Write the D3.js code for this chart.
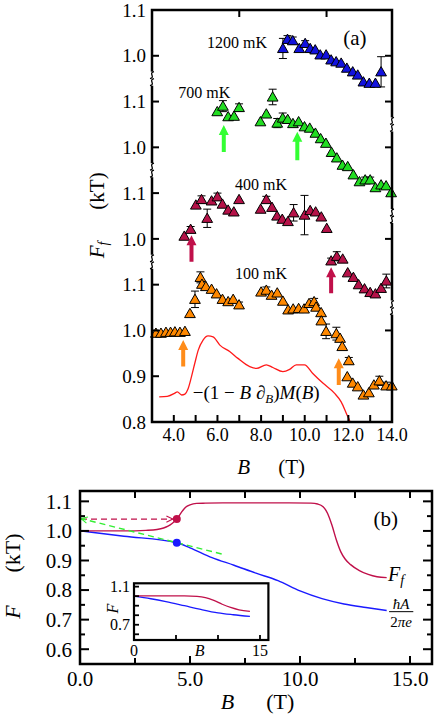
<!DOCTYPE html>
<html lang="en">
<head>
<meta charset="UTF-8">
<title>Ff versus B</title>
<script src="https://d3js.org/d3.v7.min.js"></script>
<style>
  body { margin: 0; background: #fff; }
  svg { display: block; font-family: "Liberation Serif", "DejaVu Serif", serif; }
</style>
</head>
<body>
<svg width="436" height="715"></svg>
<script>
// ---------- panel (a): measured Ff, stacked with offsets ----------
const b1200 = [9.00, 9.21, 9.45, 9.75, 10.02, 10.25, 10.48, 10.71, 10.98, 11.21, 11.44, 11.67, 11.93, 12.20, 12.43, 12.69, 12.96, 13.24, 13.50];
const f1200 = [1.016, 1.036, 1.033, 1.016, 1.027, 1.016, 1.013, 1.002, 1.002, 0.991, 0.987, 0.984, 0.973, 0.965, 0.958, 0.943, 0.940, 0.940, 0.965];
const e1200 = [0.022, 0.008, 0.008, 0, 0.006, 0, 0, 0, 0, 0, 0, 0, 0, 0, 0, 0, 0, 0, 0.033];

const b700 = [5.99, 6.25, 6.49, 6.76, 6.99, 7.97, 8.24, 8.53, 8.74, 8.99, 9.22, 9.46, 9.72, 9.99, 10.23, 10.49, 10.73, 10.97, 11.23, 11.47, 11.73, 11.97, 12.23, 12.51, 12.77, 13.00, 13.24, 13.50, 13.73, 13.96];
const f700 = [1.078, 1.090, 1.067, 1.068, 1.087, 1.056, 1.073, 1.110, 1.053, 1.064, 1.061, 1.052, 1.056, 1.045, 1.042, 1.031, 1.019, 1.009, 0.989, 0.977, 0.961, 0.958, 0.940, 0.925, 0.929, 0.929, 0.912, 0.918, 0.916, 0.901];
const e700 = [0, 0.012, 0, 0, 0.008, 0, 0, 0.017, 0.01, 0.011, 0, 0, 0, 0, 0, 0, 0, 0, 0, 0, 0, 0, 0, 0, 0.006, 0.006, 0, 0, 0, 0];

const b400 = [4.48, 4.77, 5.01, 5.27, 5.53, 5.73, 6.00, 6.23, 6.49, 6.75, 6.99, 7.98, 8.24, 8.50, 8.73, 8.97, 9.23, 9.49, 9.99, 10.25, 10.50, 10.76, 11.01, 11.21, 11.47, 11.74, 11.97, 12.23, 12.47, 12.74, 13.00, 13.24, 13.50, 13.74];
const f400 = [1.006, 1.021, 1.074, 1.086, 1.045, 1.083, 1.092, 1.076, 1.063, 1.059, 1.086, 1.065, 1.086, 1.069, 1.050, 1.043, 1.038, 1.057, 1.052, 1.062, 1.059, 1.048, 1.023, 0.952, 0.962, 0.956, 0.926, 0.916, 0.900, 0.891, 0.883, 0.880, 0.892, 0.908];
const e400 = [0, 0.006, 0, 0.008, 0.02, 0, 0.008, 0, 0, 0, 0, 0, 0.007, 0, 0, 0, 0, 0.018, 0.043, 0, 0, 0, 0, 0.006, 0.01, 0, 0, 0, 0, 0, 0, 0, 0, 0.015];

const b100 = [3.18, 3.41, 3.64, 3.85, 4.05, 4.28, 4.51, 4.74, 4.97, 5.22, 5.29, 5.47, 5.73, 5.96, 6.23, 6.49, 6.72, 6.99, 8.00, 8.24, 8.48, 8.74, 9.00, 9.24, 9.47, 9.72, 9.97, 10.20, 10.43, 10.52, 10.75, 10.76, 10.98, 11.45, 11.62, 11.72, 12.02, 11.95, 12.20, 12.43, 12.69, 12.94, 13.17, 13.42, 13.73, 13.99];
const f100 = [0.994, 0.994, 0.996, 0.996, 0.997, 0.996, 0.998, 1.037, 1.068, 1.116, 1.101, 1.096, 1.090, 1.080, 1.068, 1.063, 1.068, 1.056, 1.084, 1.088, 1.077, 1.082, 1.064, 1.045, 1.047, 1.048, 1.047, 1.059, 1.063, 1.051, 1.039, 1.021, 0.998, 0.993, 0.983, 0.965, 0.934, 0.899, 0.885, 0.877, 0.859, 0.864, 0.881, 0.890, 0.879, 0.879];
const e100 = [0, 0, 0, 0, 0, 0, 0, 0, 0.018, 0.012, 0, 0, 0, 0, 0, 0, 0, 0.006, 0, 0.007, 0, 0, 0, 0, 0, 0, 0, 0, 0.007, 0, 0, 0, 0.016, 0.014, 0, 0, 0.007, 0, 0, 0, 0, 0, 0, 0.01, 0.008, 0];

// vertical offsets used to stack the temperatures
const tempLabels = ["100 mK", "400 mK", "700 mK", "1200 mK"];
const tempOffsets = [0, 0.2, 0.4, 0.6];

// -(1 - B dB) M(B), drawn on the 100 mK scale
const mB = [3.33, 3.7, 4.05, 4.16, 4.36, 4.51, 4.65, 4.81, 4.97, 5.12, 5.34, 5.57, 5.80, 6.11, 6.56, 6.94, 7.48, 7.79, 8.24, 8.54, 9.00, 9.31, 9.61, 9.99, 10.37, 10.83, 11.36, 11.67, 11.97, 12.05, 12.2];
const mV = [0.855, 0.856, 0.863, 0.866, 0.859, 0.861, 0.872, 0.899, 0.930, 0.957, 0.979, 0.988, 0.986, 0.968, 0.954, 0.939, 0.921, 0.917, 0.925, 0.919, 0.910, 0.915, 0.925, 0.925, 0.906, 0.885, 0.863, 0.844, 0.812, 0.804, 0.77];

// arrows: B position and start/end on the stacked scale
const arrowB     = [6.29, 9.66, 4.81, 11.21, 4.43, 11.56];
const arrowFrom  = [1.390, 1.372, 1.150, 1.081, 0.921, 0.881];
const arrowTo    = [1.449, 1.434, 1.208, 1.138, 0.979, 0.939];
const arrowSeries = [2, 2, 1, 1, 0, 0];

// axis ticks of panel (a)
const aYTicks = [0.8, 0.9, 1.0, 1.1, 1.2, 1.3, 1.4, 1.5, 1.6, 1.7];
const aYLabels = ["0.8", "0.9", "1.0", "1.1", "1.0", "1.1", "1.0", "1.1", "1.0", "1.1"];
const aYTicksRight = [1.0, 1.2, 1.4, 1.5, 1.6];
const aBreaksLeft = [1.15, 1.35, 1.55];
const aBreaksRight = [1.05, 1.25, 1.45];
const aXTicks = [4, 5, 6, 7, 8, 9, 10, 11, 12, 13];
const aXLabels = [4, 6, 8, 10, 12, 14];
const aXTicksTop = [7, 11];

// ---------- panel (b): model curves ----------
const ffB = [0, 1, 2, 3, 3.5, 3.8, 4.0, 4.2, 4.4, 4.6, 4.8, 5.0, 5.3, 5.7, 6.5, 8, 9.5, 10.5, 10.8, 11.05, 11.25, 11.45, 11.65, 11.85, 12.05, 12.3, 12.7, 13.1, 13.5, 13.94];
const ffF = [1.0, 1.0, 1.0, 1.002, 1.005, 1.01, 1.016, 1.026, 1.04, 1.062, 1.08, 1.088, 1.093, 1.094, 1.095, 1.095, 1.095, 1.094, 1.091, 1.082, 1.06, 1.02, 0.97, 0.93, 0.905, 0.886, 0.866, 0.853, 0.845, 0.842];
const haB = [0, 2, 4.4, 5, 6, 7, 8, 9, 10, 11, 12, 13, 13.94];
const haF = [1.0, 0.982, 0.96, 0.943, 0.91, 0.884, 0.857, 0.832, 0.797, 0.771, 0.753, 0.741, 0.731];
const markB = 4.4, markFf = 1.04, markHa = 0.96;
const tangentEnd = [6.44, 0.922];
const bXTicks = [2.5, 5, 7.5, 10, 12.5, 15];
const bXLabels = [0, 5, 10, 15];
const bYTicks = d3.range(0.6, 1.13, 0.05);
const bYLabels = [0.6, 0.7, 0.8, 0.9, 1.0, 1.1];

// inset of panel (b)
const inFfB = [0, 3, 6, 7.5, 8.5, 9.5, 10.5, 11.5, 12.5, 13.8];
const inFfF = [1.003, 1.003, 1.003, 0.998, 0.985, 0.955, 0.915, 0.882, 0.857, 0.840];
const inHaB = [0, 2, 3.8, 6, 7.8, 10, 11.8, 13.8];
const inHaF = [1.0, 0.973, 0.943, 0.9, 0.864, 0.825, 0.805, 0.787];
const inYTicks = [0.6, 0.7, 0.8, 0.9, 1.0, 1.1];

// ---------- styles ----------
const colSeries = ["#ff8800", "#b51248", "#22dd22", "#1212dd"];
const colArrow = ["#ff8c1a", "#c0104a", "#33ff33"];
const crimson = "#c0104a";
const blue = "#1a1aff";

const svg = d3.select("svg");
const fmt1 = d3.format(".1f");

// ===================== panel (a) =====================
const xA = d3.scaleLinear().domain([3, 14]).range([152, 392]);
const yA = d3.scaleLinear().domain([0.8, 1.7]).range([422, 10]);

svg.append("clipPath").attr("id", "clipA")
  .append("rect").attr("x", xA(3)).attr("y", yA(1.7))
  .attr("width", xA(14) - xA(3)).attr("height", yA(0.8) - yA(1.7));

svg.append("path")
  .datum(mB.map((b, i) => [b, mV[i]]))
  .attr("clip-path", "url(#clipA)")
  .attr("d", d3.line().x(d => xA(d[0])).y(d => yA(d[1])).curve(d3.curveMonotoneX))
  .attr("fill", "none").attr("stroke", "#ff1a1a").attr("stroke-width", 1.3);

const allSeries = [
  { b: b100, f: f100, e: e100 },
  { b: b400, f: f400, e: e400 },
  { b: b700, f: f700, e: e700 },
  { b: b1200, f: f1200, e: e1200 }
];
const tri = d3.symbol(d3.symbolTriangle, 50);

allSeries.forEach((s, k) => {
  const pts = s.b.map((b, i) => ({ b: b, v: s.f[i] + tempOffsets[k], e: s.e[i] }));
  const g = svg.append("g");
  const eb = g.selectAll("g.eb").data(pts.filter(d => d.e > 0)).join("g")
    .attr("stroke", "#000").attr("stroke-width", 1);
  eb.append("line").attr("x1", d => xA(d.b)).attr("x2", d => xA(d.b))
    .attr("y1", d => yA(d.v - d.e)).attr("y2", d => yA(d.v + d.e));
  eb.append("line").attr("x1", d => xA(d.b) - 4).attr("x2", d => xA(d.b) + 4)
    .attr("y1", d => yA(d.v + d.e)).attr("y2", d => yA(d.v + d.e));
  eb.append("line").attr("x1", d => xA(d.b) - 4).attr("x2", d => xA(d.b) + 4)
    .attr("y1", d => yA(d.v - d.e)).attr("y2", d => yA(d.v - d.e));
  g.selectAll("path.tri").data(pts).join("path")
    .attr("class", "tri")
    .attr("d", tri)
    .attr("transform", d => `translate(${xA(d.b)},${yA(d.v) + 1})`)
    .attr("fill", colSeries[k]).attr("stroke", "#000").attr("stroke-width", 1);
});

// arrows
arrowB.forEach((b, i) => {
  const x = xA(b), y0 = yA(arrowFrom[i]), y1 = yA(arrowTo[i]);
  const p = d3.path();
  p.moveTo(x - 2, y0); p.lineTo(x - 2, y1 + 10); p.lineTo(x - 5, y1 + 10);
  p.lineTo(x, y1); p.lineTo(x + 5, y1 + 10); p.lineTo(x + 2, y1 + 10);
  p.lineTo(x + 2, y0); p.closePath();
  svg.append("path").attr("d", p.toString()).attr("fill", colArrow[arrowSeries[i]]);
});

// frame and ticks
svg.append("rect").attr("x", xA(3)).attr("y", yA(1.7))
  .attr("width", xA(14) - xA(3)).attr("height", yA(0.8) - yA(1.7))
  .attr("fill", "none").attr("stroke", "#000").attr("stroke-width", 2.5);

const tA = svg.append("g").attr("stroke", "#000").attr("stroke-width", 2);
aYTicks.forEach(v => tA.append("line").attr("x1", xA(3)).attr("x2", xA(3) + 7).attr("y1", yA(v)).attr("y2", yA(v)));
aYTicksRight.forEach(v => tA.append("line").attr("x1", xA(14)).attr("x2", xA(14) - 7).attr("y1", yA(v)).attr("y2", yA(v)));
aXTicks.forEach(b => tA.append("line").attr("x1", xA(b)).attr("x2", xA(b)).attr("y1", yA(0.8)).attr("y2", yA(0.8) - 7));
aXTicksTop.forEach(b => tA.append("line").attr("x1", xA(b)).attr("x2", xA(b)).attr("y1", yA(1.7)).attr("y2", yA(1.7) + 7));

function breakMark(x, y) {
  svg.append("rect").attr("x", x - 3).attr("y", y - 7).attr("width", 6).attr("height", 14).attr("fill", "#fff");
  [-3.5, 3.5].forEach(dy => {
    const c = y + dy;
    svg.append("path")
      .attr("d", `M${x + 2},${c - 3.5} C${x - 4},${c - 2} ${x + 4},${c + 2} ${x - 2},${c + 3.5}`)
      .attr("fill", "none").attr("stroke", "#000").attr("stroke-width", 1.3);
  });
}
aBreaksLeft.forEach(v => breakMark(xA(3), yA(v)));
aBreaksRight.forEach(v => breakMark(xA(14), yA(v)));

// tick labels
svg.append("g").selectAll("text").data(aYTicks).join("text")
  .attr("x", xA(3) - 6).attr("y", d => yA(d)).attr("dy", "0.35em")
  .attr("text-anchor", "end").attr("font-size", 19)
  .text((d, i) => aYLabels[i]);
svg.append("g").selectAll("text").data(aXLabels).join("text")
  .attr("x", d => xA(d)).attr("y", yA(0.8) + 19)
  .attr("text-anchor", "middle").attr("font-size", 18)
  .text(d => fmt1(d));

// axis titles
svg.append("text").attr("x", xA(7.2)).attr("y", 474).attr("text-anchor", "middle")
  .attr("font-size", 21).attr("font-style", "italic").text("B");
svg.append("text").attr("x", xA(9.4)).attr("y", 474).attr("text-anchor", "middle")
  .attr("font-size", 21).text("(T)");
const ylA = svg.append("text").attr("transform", "translate(104,250) rotate(-90)")
  .attr("text-anchor", "middle").attr("font-size", 21);
ylA.append("tspan").attr("font-style", "italic").text("F");
ylA.append("tspan").attr("font-style", "italic").attr("font-size", 14).attr("dy", 4).text("f");
svg.append("text").attr("transform", "translate(104,191) rotate(-90)")
  .attr("text-anchor", "middle").attr("font-size", 21).text("(kT)");

// temperature labels and (a)
const tempPos = [[xA(8.0), yA(1.125)], [xA(8.0), yA(1.32)], [xA(5.4), yA(1.52)], [xA(6.9), yA(1.63)]];
tempLabels.forEach((t, i) => svg.append("text")
  .attr("x", tempPos[i][0]).attr("y", tempPos[i][1]).attr("dy", "0.35em")
  .attr("text-anchor", "middle").attr("font-size", 16).text(t));
svg.append("text").attr("x", xA(12.3)).attr("y", yA(1.64)).attr("dy", "0.35em")
  .attr("text-anchor", "middle").attr("font-size", 21).text("(a)");

const mt = svg.append("text").attr("x", xA(4.87)).attr("y", yA(0.865)).attr("dy", "0.35em")
  .attr("font-size", 19);
mt.append("tspan").text("\u2212(1 \u2212 ");
mt.append("tspan").attr("font-style", "italic").text("B");
mt.append("tspan").text(" \u2202");
mt.append("tspan").attr("font-style", "italic").attr("font-size", 13).attr("dy", 4).text("B");
mt.append("tspan").attr("dy", -4).text(")");
mt.append("tspan").attr("font-style", "italic").text("M");
mt.append("tspan").text("(");
mt.append("tspan").attr("font-style", "italic").text("B");
mt.append("tspan").text(")");

// ===================== panel (b) =====================
const xB = d3.scaleLinear().domain([0, 16]).range([80, 432]);
const yB = d3.scaleLinear().domain([0.55, 1.135]).range([664, 491]);

const defs = svg.append("defs");
[["arrR", crimson], ["arrG", "#33ee33"]].forEach(([id, c]) => {
  defs.append("marker").attr("id", id).attr("viewBox", "0 0 10 10")
    .attr("refX", 9).attr("refY", 5).attr("markerWidth", 8).attr("markerHeight", 8)
    .attr("markerUnits", "userSpaceOnUse").attr("orient", "auto")
    .append("path").attr("d", "M1,1 L9,5 L1,9").attr("fill", "none")
    .attr("stroke", c).attr("stroke-width", 1.4);
});

const lineB = d3.line().x(d => xB(d[0])).y(d => yB(d[1])).curve(d3.curveMonotoneX);
svg.append("path").datum(haB.map((b, i) => [b, haF[i]])).attr("d", lineB)
  .attr("fill", "none").attr("stroke", blue).attr("stroke-width", 1.4);
svg.append("path").datum(ffB.map((b, i) => [b, ffF[i]])).attr("d", lineB)
  .attr("fill", "none").attr("stroke", crimson).attr("stroke-width", 1.4);

svg.append("line").attr("x1", xB(0) + 1).attr("y1", yB(markFf))
  .attr("x2", xB(markB) - 4).attr("y2", yB(markFf))
  .attr("stroke", crimson).attr("stroke-width", 1.4).attr("stroke-dasharray", "6,4")
  .attr("marker-end", "url(#arrR)");
svg.append("line").attr("x1", xB(tangentEnd[0])).attr("y1", yB(tangentEnd[1]))
  .attr("x2", xB(0) + 1).attr("y2", yB(markHa + (0 - markB) * (tangentEnd[1] - markHa) / (tangentEnd[0] - markB)))
  .attr("stroke", "#33ee33").attr("stroke-width", 1.4).attr("stroke-dasharray", "6,4")
  .attr("marker-end", "url(#arrG)");
svg.append("circle").attr("cx", xB(markB)).attr("cy", yB(markFf)).attr("r", 4).attr("fill", crimson);
svg.append("circle").attr("cx", xB(markB)).attr("cy", yB(markHa)).attr("r", 4).attr("fill", blue);

svg.append("rect").attr("x", xB(0)).attr("y", yB(1.135))
  .attr("width", xB(16) - xB(0)).attr("height", yB(0.55) - yB(1.135))
  .attr("fill", "none").attr("stroke", "#000").attr("stroke-width", 2.5);

const tB = svg.append("g").attr("stroke", "#000").attr("stroke-width", 2);
bXTicks.forEach(b => {
  const len = b % 5 === 0 ? 8 : 6;
  tB.append("line").attr("x1", xB(b)).attr("x2", xB(b)).attr("y1", yB(0.55)).attr("y2", yB(0.55) - len);
  tB.append("line").attr("x1", xB(b)).attr("x2", xB(b)).attr("y1", yB(1.135)).attr("y2", yB(1.135) + 7);
});
bYTicks.forEach(v => {
  const major = Math.abs(v * 10 - Math.round(v * 10)) < 1e-6;
  const len = major ? 9 : 5;
  tB.append("line").attr("x1", xB(0)).attr("x2", xB(0) + len).attr("y1", yB(v)).attr("y2", yB(v));
  tB.append("line").attr("x1", xB(16)).attr("x2", xB(16) - len).attr("y1", yB(v)).attr("y2", yB(v));
});

svg.append("g").selectAll("text").data(bYLabels).join("text")
  .attr("x", xB(0) - 8).attr("y", d => yB(d)).attr("dy", "0.35em")
  .attr("text-anchor", "end").attr("font-size", 21).text(d => fmt1(d));
svg.append("g").selectAll("text").data(bXLabels).join("text")
  .attr("x", d => xB(d)).attr("y", yB(0.55) + 22)
  .attr("text-anchor", "middle").attr("font-size", 21).text(d => fmt1(d));

svg.append("text").attr("x", xB(6.7)).attr("y", 709).attr("text-anchor", "middle")
  .attr("font-size", 22).attr("font-style", "italic").text("B");
svg.append("text").attr("x", xB(9.1)).attr("y", 709).attr("text-anchor", "middle")
  .attr("font-size", 22).text("(T)");
svg.append("text").attr("transform", "translate(20,612) rotate(-90)")
  .attr("text-anchor", "middle").attr("font-size", 22).attr("font-style", "italic").text("F");
svg.append("text").attr("transform", "translate(20,553) rotate(-90)")
  .attr("text-anchor", "middle").attr("font-size", 22).text("(kT)");

svg.append("text").attr("x", xB(13.9)).attr("y", yB(1.04)).attr("dy", "0.35em")
  .attr("text-anchor", "middle").attr("font-size", 21).text("(b)");
const ffl = svg.append("text").attr("x", xB(14.0)).attr("y", yB(0.829)).attr("font-size", 20);
ffl.append("tspan").attr("font-style", "italic").text("F");
ffl.append("tspan").attr("font-style", "italic").attr("font-size", 14).attr("dy", 4).text("f");
svg.append("text").attr("x", xB(14.6)).attr("y", yB(0.737)).attr("text-anchor", "middle")
  .attr("font-size", 15).attr("font-style", "italic").text("\u0127A");
svg.append("line").attr("x1", xB(14.05)).attr("x2", xB(15.15)).attr("y1", yB(0.727)).attr("y2", yB(0.727))
  .attr("stroke", "#000").attr("stroke-width", 1);
const den = svg.append("text").attr("x", xB(14.6)).attr("y", yB(0.676)).attr("text-anchor", "middle")
  .attr("font-size", 15);
den.append("tspan").text("2");
den.append("tspan").attr("font-style", "italic").text("\u03c0e");

// ---------- inset ----------
const xI = d3.scaleLinear().domain([0, 16]).range([134, 268.4]);
const yI = d3.scaleLinear().domain([0.54, 1.135]).range([640, 583.3]);
svg.append("rect").attr("x", xI(0)).attr("y", yI(1.135))
  .attr("width", xI(16) - xI(0)).attr("height", yI(0.54) - yI(1.135))
  .attr("fill", "#fff");
const lineI = d3.line().x(d => xI(d[0])).y(d => yI(d[1])).curve(d3.curveMonotoneX);
svg.append("path").datum(inHaB.map((b, i) => [b, inHaF[i]])).attr("d", lineI)
  .attr("fill", "none").attr("stroke", blue).attr("stroke-width", 1.3);
svg.append("path").datum(inFfB.map((b, i) => [b, inFfF[i]])).attr("d", lineI)
  .attr("fill", "none").attr("stroke", crimson).attr("stroke-width", 1.3);
svg.append("rect").attr("x", xI(0)).attr("y", yI(1.135))
  .attr("width", xI(16) - xI(0)).attr("height", yI(0.54) - yI(1.135))
  .attr("fill", "none").attr("stroke", "#000").attr("stroke-width", 2.2);
const tI = svg.append("g").attr("stroke", "#000").attr("stroke-width", 1.8);
[5, 10, 15].forEach(b => tI.append("line").attr("x1", xI(b)).attr("x2", xI(b)).attr("y1", yI(0.54)).attr("y2", yI(0.54) - 5));
inYTicks.forEach(v => tI.append("line").attr("x1", xI(0)).attr("x2", xI(0) + 5).attr("y1", yI(v)).attr("y2", yI(v)));
[1.1, 0.7].forEach(v => svg.append("text").attr("x", xI(0) - 4).attr("y", yI(v)).attr("dy", "0.35em")
  .attr("text-anchor", "end").attr("font-size", 16).text(fmt1(v)));
[[0, "0"], [15, "15"]].forEach(([b, t]) => svg.append("text").attr("x", xI(b)).attr("y", yI(0.54) + 16)
  .attr("text-anchor", "middle").attr("font-size", 16).text(t));
svg.append("text").attr("x", xI(7.8)).attr("y", yI(0.54) + 16).attr("text-anchor", "middle")
  .attr("font-size", 16).attr("font-style", "italic").text("B");
svg.append("text").attr("transform", `translate(118,${yI(0.87)}) rotate(-90)`)
  .attr("text-anchor", "middle").attr("font-size", 16).attr("font-style", "italic").text("F");
</script>
</body>
</html>
